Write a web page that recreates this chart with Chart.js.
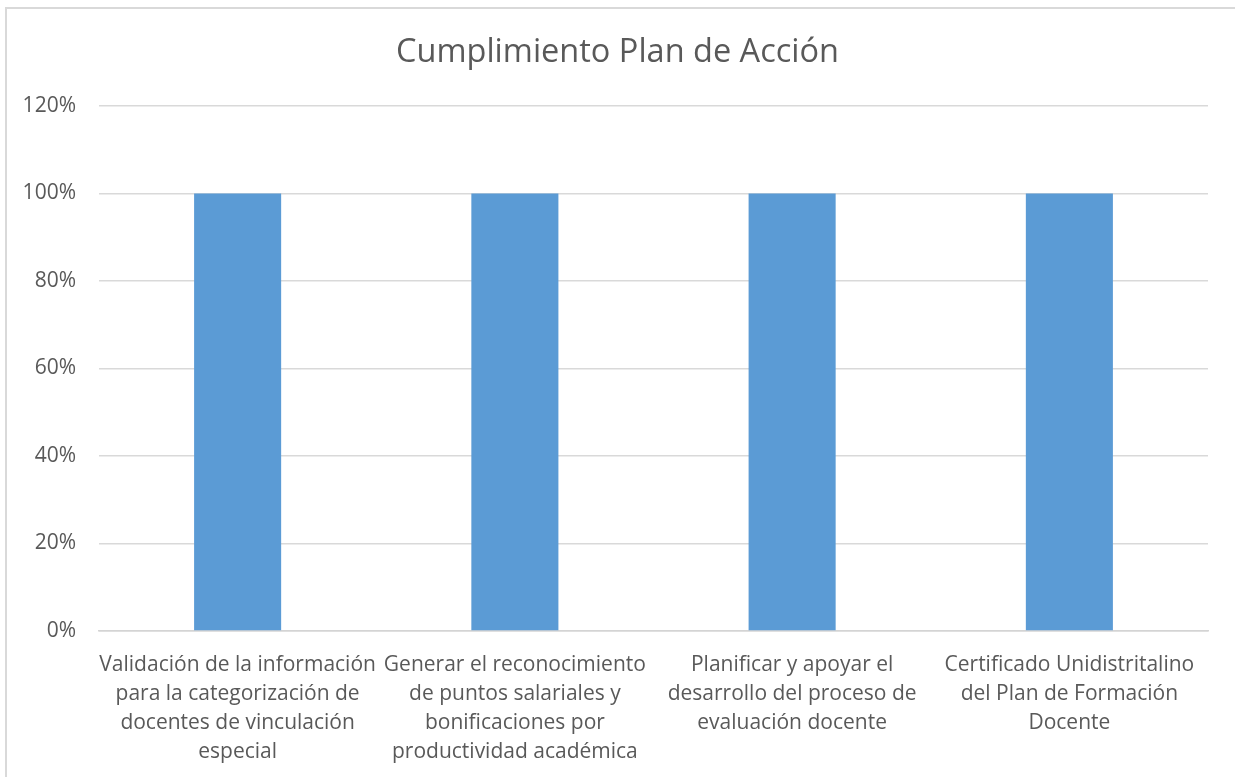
<!DOCTYPE html>
<html>
<head>
<meta charset="utf-8">
<script src="https://cdn.jsdelivr.net/npm/chart.js@4"></script>
<style>
  body { margin: 0; background: #fff; overflow: hidden; }
  #frame { position: absolute; left: 5px; top: 7px; width: 1300px; height: 900px;
           border-left: 2px solid #d9d9d9; border-top: 2px solid #d9d9d9; }
  #wrap { position: absolute; left: 0; top: 0; width: 1235px; height: 777px; }
</style>
</head>
<body>
<div id="frame"></div>
<div id="wrap"><canvas id="chart"></canvas></div>
<script>
// Datos del gráfico
const categorias = [
    ['Validación de la información', 'para la categorización de', 'docentes de vinculación', 'especial'],
    ['Generar el reconocimiento', 'de puntos salariales y', 'bonificaciones por', 'productividad académica'],
    ['Planificar y apoyar el', 'desarrollo del proceso de', 'evaluación docente'],
    ['Certificado Unidistritalino', 'del Plan de Formación', 'Docente']
];
const cumplimiento = [1, 1, 1, 1];
const ticksY = [0, 0.2, 0.4, 0.6, 0.8, 1, 1.2];

const gris = '#595959';
const fuente = '"Open Sans", "Liberation Sans", sans-serif';

const ctx = document.getElementById('chart').getContext('2d');
new Chart(ctx, {
    type: 'bar',
    data: {
        labels: categorias,
        datasets: [{
            data: cumplimiento,
            backgroundColor: '#5b9bd5',
            barPercentage: 0.314,
            categoryPercentage: 1
        }]
    },
    options: {
        responsive: true,
        maintainAspectRatio: false,
        animation: false,
        layout: { padding: 0 },
        plugins: {
            legend: { display: false },
            tooltip: { enabled: false },
            title: {
                display: true,
                text: 'Cumplimiento Plan de Acción',
                color: gris,
                font: { family: fuente, size: 32.5, weight: 'normal', lineHeight: 1.2 },
                padding: { top: 33, bottom: 34 }
            }
        },
        scales: {
            x: {
                afterFit: scale => { scale.height = 146; },
                grid: { display: false, drawTicks: false },
                border: { color: '#d4d4d4', width: 1.5 },
                ticks: {
                    color: gris,
                    font: { family: fuente, size: 21, lineHeight: 1.385 },
                    maxRotation: 0,
                    autoSkip: false,
                    padding: 19
                }
            },
            y: {
                min: 0,
                max: 1.2,
                afterBuildTicks: scale => { scale.ticks = ticksY.map(v => ({ value: v })); },
                afterFit: scale => { scale.width = 99; },
                grid: { color: '#d9d9d9', drawTicks: false, lineWidth: 1.5 },
                border: { display: false },
                ticks: {
                    color: gris,
                    font: { family: fuente, size: 21 },
                    padding: 23,
                    callback: v => Math.round(v * 100) + '%'
                }
            },
            // eje vacío a la derecha para dejar el margen
            y2: {
                position: 'right',
                min: 0,
                max: 1.2,
                afterFit: scale => { scale.width = 27; },
                grid: { display: false, drawTicks: false },
                border: { display: false },
                ticks: { display: false }
            }
        }
    }
});
</script>
</body>
</html>
